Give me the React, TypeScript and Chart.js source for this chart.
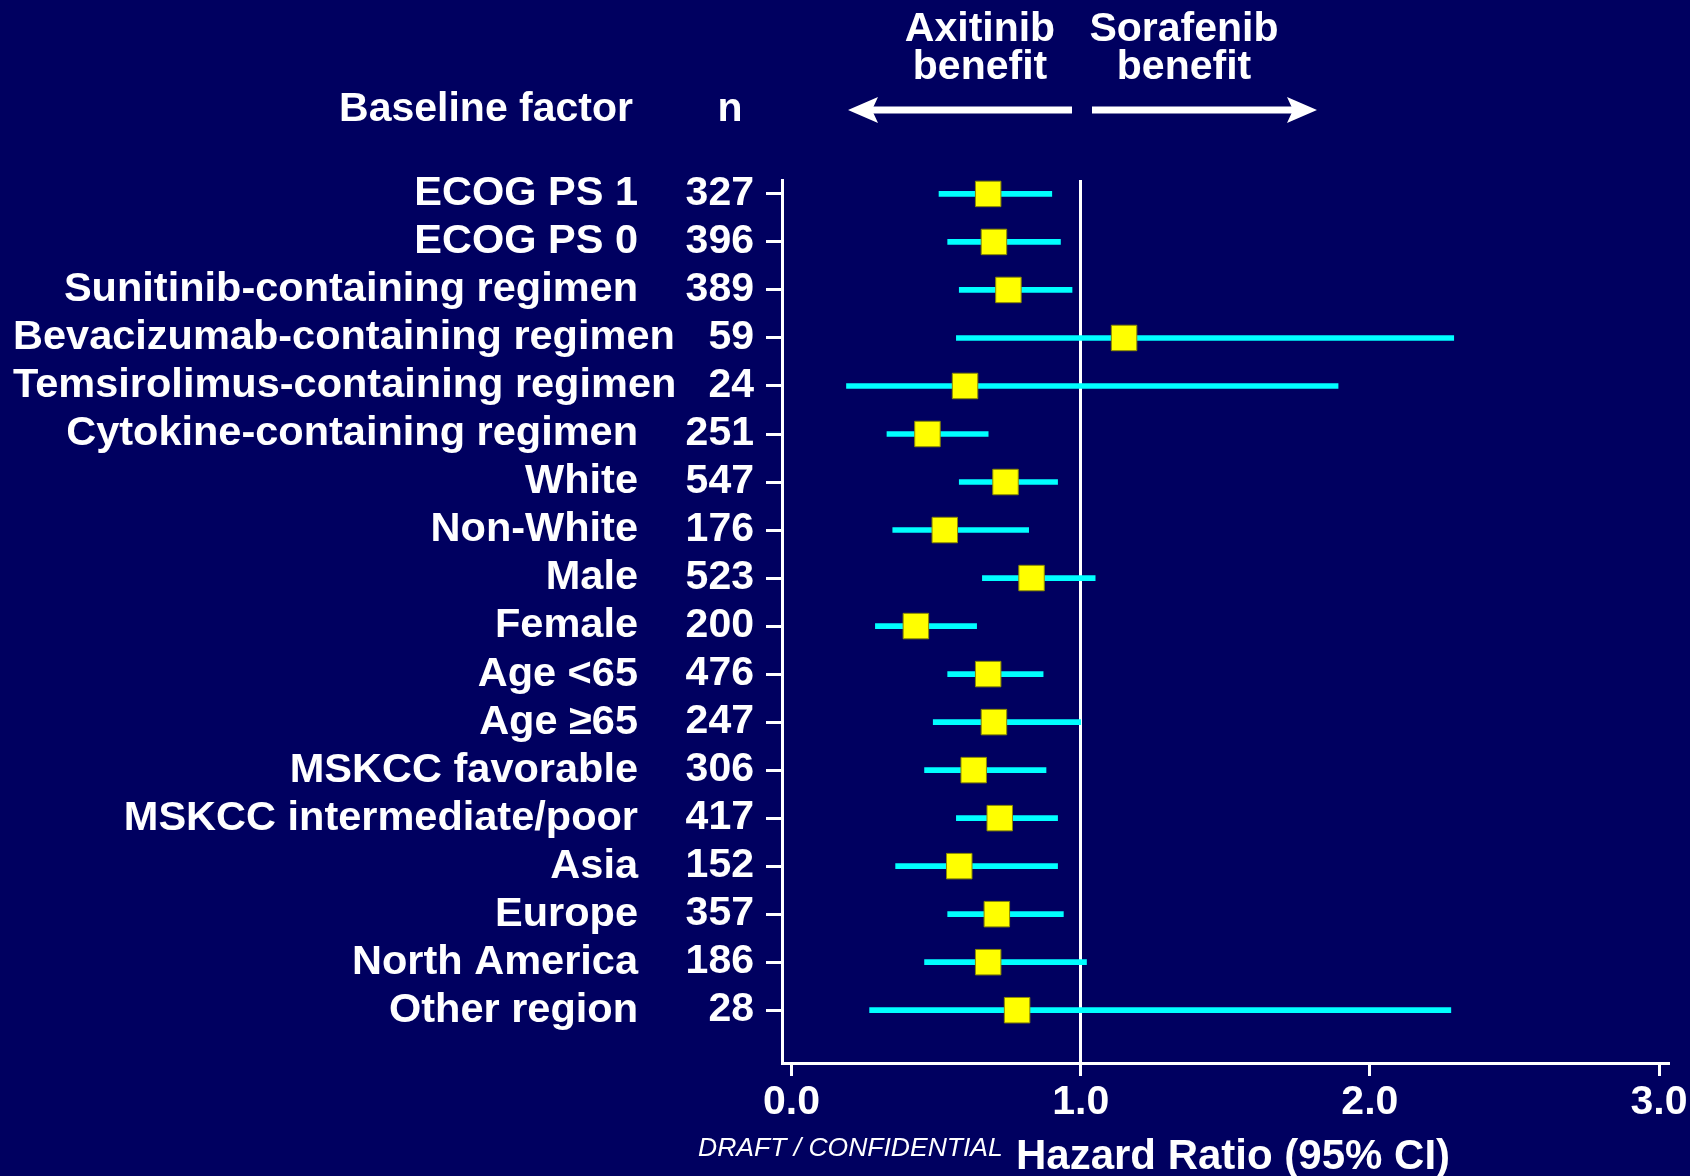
import { useEffect, useRef } from 'react';
import { Chart, registerables } from 'chart.js';

Chart.register(...registerables);

const factors = [
  'ECOG PS 1',
  'ECOG PS 0',
  'Sunitinib-containing regimen',
  'Bevacizumab-containing regimen',
  'Temsirolimus-containing regimen',
  'Cytokine-containing regimen',
  'White',
  'Non-White',
  'Male',
  'Female',
  'Age <65',
  'Age ≥65',
  'MSKCC favorable',
  'MSKCC intermediate/poor',
  'Asia',
  'Europe',
  'North America',
  'Other region',
];
const nValues = [327, 396, 389, 59, 24, 251, 547, 176, 523, 200, 476, 247, 306, 417, 152, 357, 186, 28];
const hazardRatio = [0.68, 0.70, 0.75, 1.15, 0.60, 0.47, 0.74, 0.53, 0.83, 0.43, 0.68, 0.70, 0.63, 0.72, 0.58, 0.71, 0.68, 0.78];
const ciLow = [0.51, 0.54, 0.58, 0.57, 0.19, 0.33, 0.58, 0.35, 0.66, 0.29, 0.54, 0.49, 0.46, 0.57, 0.36, 0.54, 0.46, 0.27];
const ciHigh = [0.90, 0.93, 0.97, 2.29, 1.89, 0.68, 0.92, 0.82, 1.05, 0.64, 0.87, 1.00, 0.88, 0.92, 0.92, 0.94, 1.02, 2.28];
const xTicks = [0, 1, 2, 3];
const xTitle = 'Hazard Ratio (95% CI)';

const BG = '#000060';
const FONT = '"Liberation Sans", Arial, Helvetica, sans-serif';

const overlay = {
  id: 'overlay',
  beforeDraw(chart: any) {
    const { ctx, width, height } = chart;
    ctx.save();
    ctx.fillStyle = BG;
    ctx.fillRect(0, 0, width, height);
    ctx.restore();
  },
  afterDraw(chart: any) {
    const { ctx } = chart;
    const yScale = chart.scales.y;
    ctx.save();
    ctx.fillStyle = '#ffffff';
    ctx.textBaseline = 'middle';
    ctx.font = `bold 41.5px ${FONT}`;
    const nameRight = 638;
    const nameMinLeft = 13;
    factors.forEach((name, i) => {
      const py = yScale.getPixelForValue(i);
      const w = ctx.measureText(name).width;
      if (nameRight - w < nameMinLeft) {
        ctx.textAlign = 'left';
        ctx.fillText(name, nameMinLeft, py);
      } else {
        ctx.textAlign = 'right';
        ctx.fillText(name, nameRight, py);
      }
    });

    // header
    ctx.font = `bold 41px ${FONT}`;
    ctx.textAlign = 'right';
    ctx.fillText('Baseline factor', 633, 110);
    ctx.textAlign = 'center';
    ctx.fillText('n', 730, 110);
    ctx.fillText('Axitinib', 980, 30);
    ctx.fillText('benefit', 980, 68);
    ctx.fillText('Sorafenib', 1184, 30);
    ctx.fillText('benefit', 1184, 68);

    // arrows
    const ay = 110;
    ctx.fillRect(872, ay - 3.5, 1072 - 872, 7);
    ctx.beginPath();
    ctx.moveTo(848, ay);
    ctx.lineTo(878, ay - 13);
    ctx.lineTo(872, ay);
    ctx.lineTo(878, ay + 13);
    ctx.closePath();
    ctx.fill();
    ctx.fillRect(1092, ay - 3.5, 1293 - 1092, 7);
    ctx.beginPath();
    ctx.moveTo(1317, ay);
    ctx.lineTo(1287, ay - 13);
    ctx.lineTo(1293, ay);
    ctx.lineTo(1287, ay + 13);
    ctx.closePath();
    ctx.fill();

    // x-axis title
    ctx.font = `bold 42px ${FONT}`;
    ctx.textAlign = 'center';
    ctx.fillText(xTitle, 1233, 1157);

    // watermark
    ctx.font = `italic 26.5px ${FONT}`;
    ctx.textAlign = 'left';
    ctx.fillText('DRAFT / CONFIDENTIAL', 698, 1149);
    ctx.restore();
  },
};

export default function App() {
  const ref = useRef<HTMLCanvasElement>(null);
  useEffect(() => {
    document.body.style.margin = '0';
    document.body.style.background = BG;
    const chart = new Chart(ref.current as HTMLCanvasElement, {
      type: 'scatter',
      data: {
        datasets: [
          {
            type: 'scatter',
            label: 'Hazard ratio',
            data: hazardRatio.map((v, i) => ({ x: v, y: i })),
            pointStyle: 'rect',
            pointRadius: 18,
            pointHoverRadius: 18,
            backgroundColor: '#FFFF00',
            borderColor: '#8C8C00',
            borderWidth: 1,
            order: 0,
          } as any,
          {
            type: 'bar',
            label: '95% CI',
            indexAxis: 'y',
            data: ciLow.map((lo, i) => ({ x: [lo, ciHigh[i]], y: i })),
            backgroundColor: '#00FFFF',
            barThickness: 5,
            borderWidth: 0,
            order: 1,
          } as any,
        ],
      },
      options: {
        responsive: false,
        animation: false,
        devicePixelRatio: 1,
        events: [],
        layout: { padding: { top: 180, right: 22, left: 0, bottom: 0 } },
        plugins: { legend: { display: false }, tooltip: { enabled: false } },
        scales: {
          x: {
            type: 'linear',
            offset: false,
            min: -0.033,
            max: 3.031,
            afterBuildTicks: (s: any) => {
              s.ticks = xTicks.map((v) => ({ value: v }));
            },
            afterFit: (s: any) => {
              s.height = 113;
              s.paddingLeft = 0;
              s.paddingRight = 0;
            },
            border: { display: true, color: '#ffffff', width: 3 },
            grid: {
              offset: false,
              drawOnChartArea: true,
              drawTicks: true,
              tickLength: 13,
              lineWidth: 3,
              color: (c: any) => (c.tick && c.tick.value === 1 ? '#ffffff' : 'rgba(0,0,0,0)'),
              tickColor: '#ffffff',
            },
            ticks: {
              color: '#ffffff',
              font: { family: FONT, size: 41, weight: 'bold' },
              padding: 2,
              maxRotation: 0,
              autoSkip: false,
              callback: (v: any) => Number(v).toFixed(1),
            },
            title: { display: false, text: xTitle },
          },
          y: {
            type: 'linear',
            offset: false,
            reverse: true,
            min: -0.29,
            max: 18.1,
            afterBuildTicks: (s: any) => {
              s.ticks = factors.map((_, i) => ({ value: i }));
            },
            afterFit: (s: any) => {
              s.width = 782;
              s.paddingTop = 0;
              s.paddingBottom = 0;
            },
            border: { display: true, color: '#ffffff', width: 3 },
            grid: { offset: false, drawOnChartArea: false, drawTicks: true, tickLength: 16, lineWidth: 3, color: '#ffffff' },
            ticks: {
              color: '#ffffff',
              font: { family: FONT, size: 41, weight: 'bold' },
              padding: 12,
              autoSkip: false,
              callback: (v: any) => String(nValues[Number(v)] ?? ''),
            },
          },
        },
      } as any,
      plugins: [overlay],
    });
    return () => chart.destroy();
  }, []);
  return (
    <div style={{ position: 'absolute', left: 0, top: 0, width: 1690, height: 1176 }}>
      <canvas ref={ref} width={1690} height={1176} style={{ display: 'block', width: 1690, height: 1176 }} />
    </div>
  );
}
